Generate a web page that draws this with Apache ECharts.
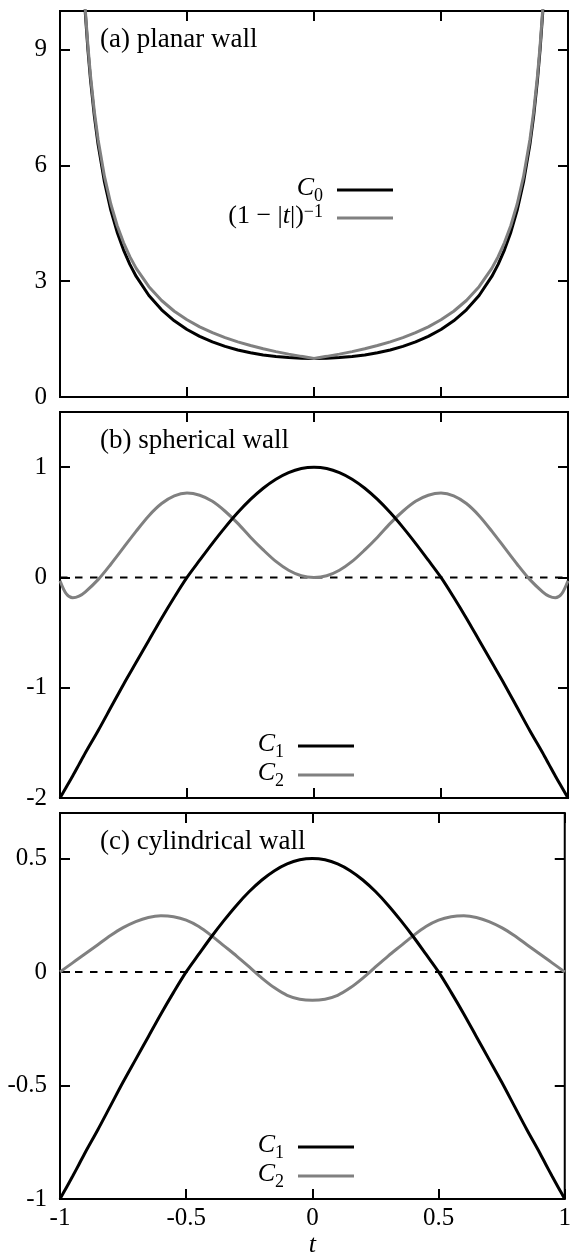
<!DOCTYPE html>
<html><head><meta charset="utf-8">
<script src="https://cdn.jsdelivr.net/npm/echarts@6/dist/echarts.min.js"></script>
<style>html,body{margin:0;padding:0;background:#fff}#c{width:574px;height:1259px}</style>
</head><body><div id="c"></div>
<script>
// ---- data ----
const T_A = [-0.95,-0.925,-0.91,-0.9,-0.89,-0.88,-0.865,-0.85,-0.825,-0.8,-0.775,-0.75,-0.725,-0.7,-0.65,-0.6,-0.55,-0.5,-0.45,-0.4,-0.35,-0.3,-0.25,-0.2,-0.15,-0.1,-0.05,0,
  0.05,0.1,0.15,0.2,0.25,0.3,0.35,0.4,0.45,0.5,0.55,0.6,0.65,0.7,0.725,0.75,0.775,0.8,0.825,0.85,0.865,0.88,0.89,0.9,0.91,0.925,0.95];
const A_C0 = [19.95,13.26,11.03,9.91,8.993,8.227,7.29,6.54,5.57,4.84,4.27,3.813,3.437,3.123,2.63,2.26,1.975,1.75,1.571,1.427,1.311,1.219,1.146,1.09,1.049,1.021,1.005,1,
  1.005,1.021,1.049,1.09,1.146,1.219,1.311,1.427,1.571,1.75,1.975,2.26,2.63,3.123,3.437,3.813,4.27,4.84,5.57,6.54,7.29,8.227,8.993,9.91,11.03,13.26,19.95];
const A_INV = [20,13.33,11.11,10,9.091,8.333,7.407,6.667,5.714,5,4.444,4,3.636,3.333,2.857,2.5,2.222,2,1.818,1.667,1.538,1.429,1.333,1.25,1.176,1.111,1.053,1,
  1.053,1.111,1.176,1.25,1.333,1.429,1.538,1.667,1.818,2,2.222,2.5,2.857,3.333,3.636,4,4.444,5,5.714,6.667,7.407,8.333,9.091,10,11.11,13.33,20];

const T_BC = [-1,-0.975,-0.95,-0.925,-0.9,-0.85,-0.8,-0.75,-0.7,-0.65,-0.6,-0.55,-0.5,-0.45,-0.4,-0.35,-0.3,-0.25,-0.2,-0.15,-0.1,-0.05,0,
  0.05,0.1,0.15,0.2,0.25,0.3,0.35,0.4,0.45,0.5,0.55,0.6,0.65,0.7,0.75,0.8,0.85,0.9,0.925,0.95,0.975,1];
const B_C1 = [-2,-1.9,-1.8,-1.695,-1.59,-1.39,-1.18,-0.97,-0.77,-0.57,-0.37,-0.18,0,0.156,0.309,0.454,0.588,0.707,0.809,0.891,0.951,0.988,1,
  0.988,0.951,0.891,0.809,0.707,0.588,0.454,0.309,0.156,0,-0.18,-0.37,-0.57,-0.77,-0.97,-1.18,-1.39,-1.59,-1.695,-1.8,-1.9,-2];
const B_C2 = [-0.03,-0.15,-0.185,-0.17,-0.13,-0.02,0.12,0.27,0.42,0.56,0.67,0.74,0.765,0.745,0.69,0.6,0.49,0.365,0.25,0.145,0.065,0.015,0,
  0.015,0.065,0.145,0.25,0.365,0.49,0.6,0.69,0.745,0.765,0.74,0.67,0.56,0.42,0.27,0.12,-0.02,-0.13,-0.17,-0.185,-0.15,-0.03];
const C_C1 = [-1,-0.95,-0.9,-0.848,-0.795,-0.695,-0.59,-0.485,-0.385,-0.285,-0.185,-0.09,0,0.078,0.155,0.227,0.294,0.354,0.405,0.446,0.476,0.494,0.5,
  0.494,0.476,0.446,0.405,0.354,0.294,0.227,0.155,0.078,0,-0.09,-0.185,-0.285,-0.385,-0.485,-0.59,-0.695,-0.795,-0.848,-0.9,-0.95,-1];
const C_C2 = [0,0.02,0.04,0.06,0.08,0.12,0.16,0.195,0.222,0.24,0.247,0.243,0.228,0.2,0.16,0.115,0.07,0.022,-0.027,-0.07,-0.103,-0.12,-0.125,
  -0.12,-0.103,-0.07,-0.027,0.022,0.07,0.115,0.16,0.2,0.228,0.243,0.247,0.24,0.222,0.195,0.16,0.12,0.08,0.06,0.04,0.02,0];
const ZERO_T = [-1, 1];
const ZERO_V = [0, 0];

const X_TICKS = [-1, -0.5, 0, 0.5, 1];
const A_TICKS = [0, 3, 6, 9];
const B_TICKS = [-2, -1, 0, 1];
const C_TICKS = [-1, -0.5, 0, 0.5];
const PANEL_TITLES = ['(a) planar wall', '(b) spherical wall', '(c) cylindrical wall'];
const X_NAME = 't';

// ---- layout / style ----
const FONT = 'Liberation Serif';
const L = 60, R = 6, H = 386;
const TOPS = [11, 412, 813];
const YR = [[0, 10], [-2, 1.5], [-1, 0.7]];
const YT = [A_TICKS, B_TICKS, C_TICKS];
const BLACK = '#000000', GRAY = '#808080';

function zip(t, v) { return t.map((x, i) => [x, v[i]]); }

const grid = TOPS.map(t => ({ left: L, right: R, top: t, height: H, show: true, borderColor: '#000', borderWidth: 2, backgroundColor: 'transparent' }));
const tick = { inside: true, length: 10, lineStyle: { color: '#000', width: 2 } };
const xAxis = [], yAxis = [];
for (let g = 0; g < 3; g++) {
  const last = g === 2;
  xAxis.push({
    type: 'value', gridIndex: g, min: -1, max: 1, interval: 0.5, position: 'bottom',
    axisLine: { show: false, onZero: false },
    axisTick: Object.assign({ customValues: X_TICKS }, tick),
    axisLabel: { show: last, customValues: X_TICKS, showMinLabel: true, showMaxLabel: true, margin: 7, color: '#000', fontFamily: FONT, fontSize: 25 },
    splitLine: { show: false },
    name: last ? X_NAME : '', nameLocation: 'middle', nameGap: 27,
    nameTextStyle: { fontFamily: FONT, fontStyle: 'italic', fontSize: 26, color: '#000' }
  });
  xAxis.push({
    type: 'value', gridIndex: g, min: -1, max: 1, interval: 0.5, position: 'top',
    axisLine: { show: false, onZero: false },
    axisTick: Object.assign({ customValues: X_TICKS }, tick),
    axisLabel: { show: false }, splitLine: { show: false }
  });
  yAxis.push({
    type: 'value', gridIndex: g, min: YR[g][0], max: YR[g][1], position: 'left',
    axisLine: { show: false, onZero: false },
    axisTick: Object.assign({ customValues: YT[g] }, tick),
    axisLabel: { customValues: YT[g], margin: 13, color: '#000', fontFamily: FONT, fontSize: 25 },
    splitLine: { show: false }
  });
  yAxis.push({
    type: 'value', gridIndex: g, min: YR[g][0], max: YR[g][1], position: 'right',
    axisLine: { show: false, onZero: false },
    axisTick: Object.assign({ customValues: YT[g] }, tick),
    axisLabel: { show: false }, splitLine: { show: false }
  });
}

function line(name, g, t, v, color, smooth) {
  return {
    name, type: 'line', xAxisIndex: 2 * g, yAxisIndex: 2 * g, data: zip(t, v),
    showSymbol: false, symbol: 'none', smooth: smooth, color: color,
    lineStyle: { color, width: 3 }, itemStyle: { color }, clip: true, silent: true, animation: false, z: 3
  };
}
function zero(name, g) {
  return {
    name, type: 'line', xAxisIndex: 2 * g, yAxisIndex: 2 * g, data: zip(ZERO_T, ZERO_V),
    showSymbol: false, symbol: 'none', lineStyle: { color: '#000', width: 2, type: [7.5, 7.5] },
    silent: true, animation: false, z: 2
  };
}

const series = [
  line('a0', 0, T_A, A_C0, BLACK, false),
  line('a1', 0, T_A, A_INV, GRAY, false),
  zero('zb', 1),
  line('b2', 1, T_BC, B_C2, GRAY, 0.3),
  line('b1', 1, T_BC, B_C1, BLACK, 0.3),
  zero('zc', 2),
  line('c2', 2, T_BC, C_C2, GRAY, 0.3),
  line('c1', 2, T_BC, C_C1, BLACK, 0.3)
];

const LEG_TEXT = {
  a0: '{it|C}{sub|0}{sp| }',
  a1: '{rm|(1 − |}{it|t}{rm||)}{sup|−1}{sp| }',
  b1: '{it|C}{sub|1}{sp| }', b2: '{it|C}{sub|2}{sp| }',
  c1: '{it|C}{sub|1}{sp| }', c2: '{it|C}{sub|2}{sp| }'
};
const rich = {
  it: { fontFamily: FONT, fontStyle: 'italic', fontSize: 26, lineHeight: 30, verticalAlign: 'top', color: '#000' },
  rm: { fontFamily: FONT, fontSize: 26, lineHeight: 30, verticalAlign: 'top', color: '#000' },
  sub: { fontFamily: FONT, fontSize: 18, lineHeight: 17, verticalAlign: 'bottom', color: '#000' },
  sup: { fontFamily: FONT, fontSize: 18, lineHeight: 17, verticalAlign: 'top', color: '#000' },
  sp: { width: 9, fontSize: 10, lineHeight: 10 }
};
const LEG_POS = [['a0', 181, 175], ['a1', 181, 203], ['b1', 220, 731], ['b2', 220, 760], ['c1', 220, 1132], ['c2', 220, 1161]];
const legend = LEG_POS.map(([n, r, t]) => ({
  data: [{ name: n, icon: 'rect' }], right: r, top: t, padding: 0, align: 'right', orient: 'vertical',
  itemWidth: 56, itemHeight: 3, selectedMode: false,
  formatter: name => LEG_TEXT[name], textStyle: { color: '#000', rich }
}));

const title = PANEL_TITLES.map((s, i) => ({
  text: s, left: 100, top: TOPS[i] + 15, padding: 0,
  textStyle: { fontFamily: FONT, fontSize: 27, fontWeight: 'normal', color: '#000' }
}));

const chart = echarts.init(document.getElementById('c'), null, { renderer: 'canvas' });
chart.setOption({ animation: false, backgroundColor: '#fff', grid, xAxis, yAxis, series, legend, title });
</script></body></html>
